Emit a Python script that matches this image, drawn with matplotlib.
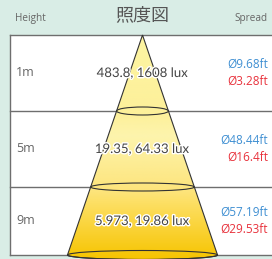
import numpy as np
import matplotlib.pyplot as plt
from matplotlib.patches import Ellipse, PathPatch
from matplotlib.path import Path
from matplotlib.colors import LinearSegmentedColormap
import matplotlib.patheffects as pe

# chart values
heights = ["1m", "5m", "9m"]
lux_centre = ["483.8", "19.35", "5.973"]
lux_value = ["1608", "64.33", "19.86"]
spread_blue = ["Ø9.68ft", "Ø48.44ft", "Ø57.19ft"]
spread_red = ["Ø3.28ft", "Ø16.4ft", "Ø29.53ft"]

# layout (pixel units)
W, H = 272, 259
box_left = 10
bounds = [35, 111, 187, 255]   # top of box and the row lines
cx = 142.5
slope = 0.341

fig = plt.figure(figsize=(W / 100, H / 100), dpi=100)
fig.patch.set_facecolor("#d9ede6")
ax = fig.add_axes([0, 0, 1, 1])
ax.set_xlim(0, W)
ax.set_ylim(H, 0)
ax.axis("off")

# white table box
ax.add_patch(plt.Rectangle((box_left, bounds[0]), W, bounds[-1] - bounds[0],
                           facecolor="white", edgecolor="none", zorder=1))
ax.plot([box_left, box_left], [bounds[0], bounds[-1]], color="#6e6e6e", lw=1, zorder=2)
for y in bounds:
    ax.plot([box_left, W], [y, y], color="#6e6e6e", lw=1, zorder=2)

# cone with gradient fill
apex = bounds[0]
bottom = bounds[-1]
hw_bot = slope * (bottom - apex)
ell_h = [8, 8, 9]
t = np.linspace(0, np.pi, 40)
verts = [(cx, apex), (cx + hw_bot, bottom)]
verts += [(cx + hw_bot * np.cos(a), bottom + ell_h[-1] / 2 * np.sin(a)) for a in t]
verts += [(cx, apex)]
codes = [Path.MOVETO] + [Path.LINETO] * (len(verts) - 2) + [Path.CLOSEPOLY]
cone = PathPatch(Path(verts, codes), facecolor="none", edgecolor="#333333", lw=0.8, zorder=4)
ax.add_patch(cone)

cmap = LinearSegmentedColormap.from_list("beam", [
    (0.0, "#fdf5a2"), (0.35, "#fdf09a"), (0.45, "#fdf4ad"),
    (0.7, "#fde47a"), (0.75, "#fddf63"), (1.0, "#f6c400")])
grad = np.linspace(0, 1, 256).reshape(-1, 1)
img = ax.imshow(grad, cmap=cmap, aspect="auto", zorder=3,
                extent=[cx - hw_bot, cx + hw_bot, bottom + ell_h[-1] / 2, apex])
img.set_clip_path(cone)

for y, eh in zip(bounds[1:], ell_h):
    hw = slope * (y - apex)
    ax.add_patch(Ellipse((cx, y), 2 * hw, eh, facecolor="none",
                         edgecolor="#333333", lw=0.8, zorder=5))

# header
ax.text(15, 19, "Height", fontsize=7.2, color="#666666", family="Open Sans",
        va="center", ha="left")
ax.text(W - 4, 19, "Spread", fontsize=7.2, color="#666666", family="Open Sans",
        va="center", ha="right")
ax.text(cx, 15, "照度図", fontsize=13, color="#555555",
        family=["Noto Sans CJK JP", "DejaVu Sans"], va="center", ha="center")

# rows
label_y = [73, 149, 221]
outline = [pe.withStroke(linewidth=2, foreground="white")]
for i in range(3):
    y = label_y[i]
    ax.text(16, y, heights[i], fontsize=9, color="#666666", family="Open Sans",
            va="center", ha="left", zorder=6)
    ax.text(cx, y, lux_centre[i] + ", " + lux_value[i] + " lux", fontsize=9.5,
            color="#444444", family="Lato",
            va="center", ha="center", zorder=6, path_effects=outline)
    ax.text(W - 4, y - 8.5, spread_blue[i], fontsize=8.5, color="#3f8fd2",
            family="Open Sans", va="center", ha="right", zorder=6)
    ax.text(W - 4, y + 8, spread_red[i], fontsize=8.5, color="#e8323c",
            family="Open Sans", va="center", ha="right", zorder=6)

fig.savefig("out.png", dpi=100, facecolor=fig.get_facecolor())
